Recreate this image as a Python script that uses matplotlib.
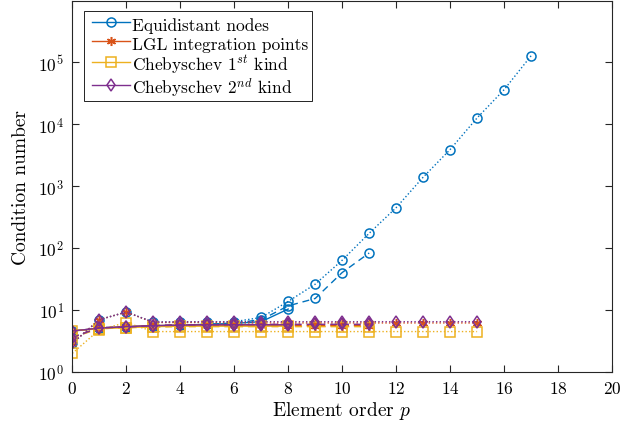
import matplotlib
matplotlib.use("Agg")
import matplotlib.pyplot as plt
from matplotlib.lines import Line2D
from matplotlib.legend_handler import HandlerLine2D
from matplotlib.ticker import FixedLocator, LogFormatterSciNotation, NullLocator

plt.rcParams.update({
    "font.family": "cmr10",
    "mathtext.fontset": "cm",
    "axes.formatter.use_mathtext": True,
    "axes.unicode_minus": False,
})

# Element orders for each run
p_long_equi = list(range(18))
p_long = list(range(16))
p_mid = list(range(12))
p_short = list(range(9))

# Condition numbers: equidistant nodes
equi_dot = [2.9, 7.0, 9.3, 6.4, 6.4, 6.4, 6.5, 7.6, 13.8, 26.2, 63.8, 174,
            451, 1400, 3920, 12700, 36300, 128000]
equi_dash = [3.6, 5.2, 5.3, 5.6, 5.7, 5.9, 6.2, 7.0, 11.7, 15.4, 40.4, 83.6]
equi_solid = [4.6, 5.1, 5.4, 5.6, 5.7, 5.9, 6.1, 6.5, 10.4]

# Condition numbers: LGL integration points
lgl_dot = [2.9, 7.0, 9.3, 6.3, 6.3, 6.3, 6.2, 6.2, 6.2, 6.2, 6.2, 6.2, 6.2,
           6.2, 6.2, 6.2]
lgl_dash = [3.6, 5.2, 5.3, 5.6, 5.7, 5.7, 5.7, 5.7, 5.6, 5.6, 5.6, 5.6]
lgl_solid = [4.6, 5.1, 5.4, 5.6, 5.7, 5.7, 5.7, 5.7, 5.7]

# Condition numbers: Chebyshev points of the first kind
cheb1_dot = [2.0, 4.8, 6.3, 4.5, 4.5, 4.5, 4.5, 4.5, 4.5, 4.5, 4.5, 4.5, 4.5,
             4.5, 4.5, 4.5]
cheb1_dash = [3.6, 5.0, 5.2, 5.3, 5.4, 5.4, 5.4, 5.4, 5.4, 5.4, 5.4, 5.4]
cheb1_solid = [4.6, 5.0, 5.2, 5.4, 5.5, 5.5, 5.5, 5.5, 5.5]

# Condition numbers: Chebyshev points of the second kind
cheb2_dot = [2.9, 7.0, 9.3, 6.4, 6.5, 6.5, 6.5, 6.5, 6.5, 6.5, 6.5, 6.5, 6.5,
             6.5, 6.5, 6.5]
cheb2_dash = [3.6, 5.2, 5.3, 5.6, 5.8, 5.8, 5.8, 5.9, 5.9, 5.9, 5.9, 5.9]
cheb2_solid = [4.6, 5.1, 5.4, 5.6, 5.7, 5.8, 5.8, 5.8, 5.8]

labels = ["Equidistant nodes", "LGL integration points",
          r"Chebyschev $1^{st}$ kind", r"Chebyschev $2^{nd}$ kind"]
colors = ["#0072BD", "#D95319", "#EDB120", "#7E2F8E"]
markers = ["o", (6, 2, 0), "s", "d"]

series = [
    (equi_solid, equi_dash, equi_dot, p_long_equi),
    (lgl_solid, lgl_dash, lgl_dot, p_long),
    (cheb1_solid, cheb1_dash, cheb1_dot, p_long),
    (cheb2_solid, cheb2_dash, cheb2_dot, p_long),
]

fig = plt.figure(figsize=(6.22, 4.35), dpi=100)
ax = fig.add_axes([0.1162, 0.1425, 0.8678, 0.854])

for (solid, dash, dot, p_dot), lab, col, mk in zip(series, labels, colors, markers):
    kw = dict(color=col, marker=mk, markersize=6.5, markerfacecolor="none",
              markeredgecolor=col, markeredgewidth=1.1, linewidth=1.0)
    ax.plot(p_short, solid, linestyle="-", label=lab, **kw)
    ax.plot(p_mid, dash, linestyle=(0, (5, 3.5)), **kw)
    ax.plot(p_dot, dot, linestyle=(0, (1, 1.6)), **kw)

ax.set_yscale("log")
ax.set_xlim(0, 20)
ax.set_ylim(1, 1e6)
ax.set_xticks(range(0, 21, 2))
ax.yaxis.set_major_locator(FixedLocator([1, 10, 100, 1e3, 1e4, 1e5]))
ax.yaxis.set_major_formatter(LogFormatterSciNotation())
ax.yaxis.set_minor_locator(NullLocator())

ax.tick_params(direction="in", length=5, width=0.8, colors="#262626",
               labelcolor="black", labelsize=12.5, top=True, right=True, pad=6)
for s in ax.spines.values():
    s.set_color("#262626")
    s.set_linewidth(0.8)

ax.set_xlabel(r"Element order $p$", fontsize=14, labelpad=2)
ax.set_ylabel("Condition number", fontsize=14, labelpad=6)

leg = ax.legend(loc="upper left", bbox_to_anchor=(0.0217, 0.9717),
                borderaxespad=0, fontsize=12.5, handlelength=2.44,
                handleheight=1.31, labelspacing=0.0, borderpad=0.2,
                handletextpad=0.12, fancybox=False, framealpha=1,
                edgecolor="black",
                handler_map={Line2D: HandlerLine2D(numpoints=1, xpad=0.28)})
leg.get_frame().set_linewidth(0.6)

fig.savefig("out.png", dpi=100)
